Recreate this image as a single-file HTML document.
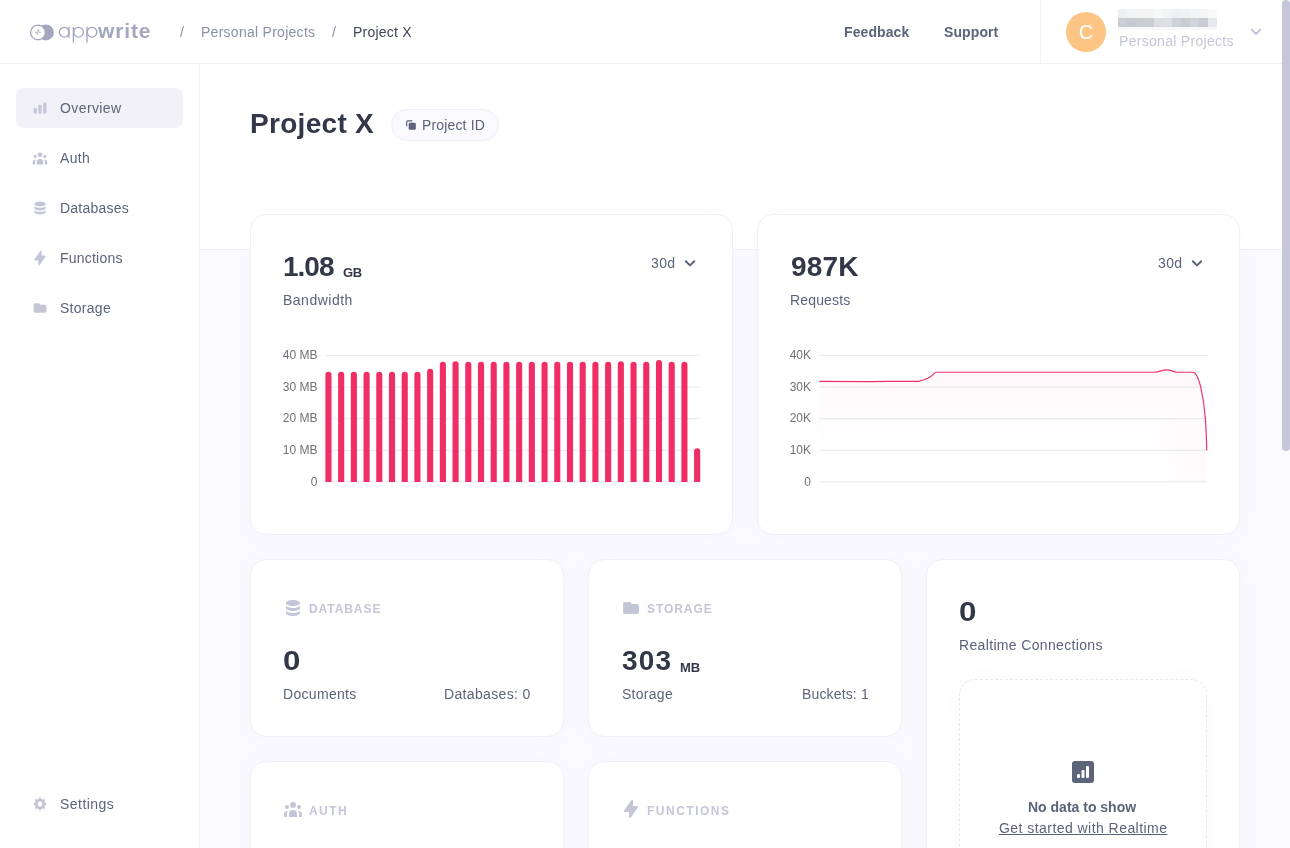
<!DOCTYPE html>
<html><head><meta charset="utf-8">
<style>
*{box-sizing:border-box;margin:0;padding:0}
html,body{width:1290px;height:848px;overflow:hidden}
body{font-family:"Liberation Sans",sans-serif;background:#F9F9FE;position:relative;color:#5B6479}
.a{position:absolute;white-space:nowrap;line-height:1}
.t14{font-size:14px}
#root{position:absolute;left:0;top:0;width:1290px;height:848px;will-change:transform}
#header{position:absolute;left:0;top:0;width:1290px;height:64px;background:#fff;border-bottom:1px solid #EFEFF5}
#sidebar{position:absolute;left:0;top:64px;width:200px;height:784px;background:#fff;border-right:1px solid #EFEFF5}
#toparea{position:absolute;left:200px;top:64px;width:1090px;height:186px;background:#fff;border-bottom:1px solid #F0F0F6}
.card{position:absolute;background:#fff;border:1px solid #EFEFF6;border-radius:16px;box-shadow:0 0 16px rgba(200,200,225,0.08)}
.nav{position:absolute;left:60px;font-size:14px;color:#5B6479;line-height:1}
.navbg{position:absolute;left:16px;top:88px;width:167px;height:40px;border-radius:8px;background:#F1F1F7}
.ico{position:absolute}
.dark{color:#373B4D}
.lbl{position:absolute;font-size:12px;font-weight:700;color:#C4C6D7;letter-spacing:0.93px;line-height:1}
#scroll{position:absolute;left:1282px;top:0;width:8px;height:451px;border-radius:4px;background:#C5C6D9}
</style></head>
<body><div id="root">
<div id="header">
  <!-- logo -->
  <svg class="ico" style="left:0;top:0" width="160" height="64" viewBox="0 0 160 64">
    <circle cx="45.9" cy="32.4" r="8" fill="#A2A7BF"/>
    <circle cx="38" cy="32.4" r="7.35" fill="#fff" stroke="#A2A7BF" stroke-width="1.3"/>
    <path d="M35.2 32.4H36.4L37.3 34.6L38.3 29.5L39.2 32.4H40.6" fill="none" stroke="#A2A7BF" stroke-width="0.75" stroke-linejoin="round"/>
    <g fill="none" stroke="#A2A7BF" stroke-width="1.35">
      <circle cx="64.2" cy="32.2" r="4.85"/>
      <path d="M68.85 26.8V37.7"/>
      <circle cx="78.5" cy="32.2" r="4.85"/>
      <path d="M73.4 26.8V42.7"/>
      <circle cx="92" cy="32.2" r="4.85"/>
      <path d="M87 26.8V42.7"/>
    </g>
  </svg>
  <div class="a" style="left:98px;top:19.8px;font-size:21px;font-weight:700;color:#A2A7BF;letter-spacing:0.85px">write</div>
  <div class="a t14" style="left:180px;top:25px;color:#8A92A8">/</div>
  <div class="a t14" style="left:201px;top:25px;color:#8A92A8;letter-spacing:0.27px">Personal Projects</div>
  <div class="a t14" style="left:332px;top:25px;color:#8A92A8">/</div>
  <div class="a t14" style="left:353px;top:25px;color:#3F4456;letter-spacing:0.21px">Project X</div>
  <div class="a t14" style="left:844px;top:25px;font-weight:700;color:#5B6479;letter-spacing:0.1px">Feedback</div>
  <div class="a t14" style="left:944px;top:25px;font-weight:700;color:#5B6479;letter-spacing:0.1px">Support</div>
  <div style="position:absolute;left:1040px;top:0;width:1px;height:63px;background:#F0F0F5"></div>
  <div style="position:absolute;left:1066px;top:12px;width:40px;height:40px;border-radius:50%;background:#FDC584"></div>
  <div class="a" style="left:1076px;top:22px;font-size:20px;color:#fff;width:20px;text-align:center">C</div>
  <div style="position:absolute;left:1118px;top:9px;width:99px;height:21px;display:grid;grid-template-columns:repeat(11,9px);grid-template-rows:9px 9px 3px"><i style="background:#EEEFF2"></i><i style="background:#F1F2F4"></i><i style="background:#F3F4F5"></i><i style="background:#F4F4F5"></i><i style="background:#F7F8F8"></i><i style="background:#F2F3F5"></i><i style="background:#EEEFF2"></i><i style="background:#F0F1F4"></i><i style="background:#F3F4F5"></i><i style="background:#F4F5F6"></i><i style="background:#FAFAFA"></i><i style="background:#CBCED4"></i><i style="background:#C6C9D1"></i><i style="background:#CACDD3"></i><i style="background:#CBCED3"></i><i style="background:#DCDEE2"></i><i style="background:#DDDFE3"></i><i style="background:#CED1D7"></i><i style="background:#C9CCD2"></i><i style="background:#D1D4D9"></i><i style="background:#C9CCD2"></i><i style="background:#E8E9EC"></i><i style="background:#F7F7F9"></i><i style="background:#F7F7F9"></i><i style="background:#F7F7F9"></i><i style="background:#F7F7F9"></i><i style="background:#F7F7F9"></i><i style="background:#F7F7F9"></i><i style="background:#F7F7F9"></i><i style="background:#F7F7F9"></i><i style="background:#F7F7F9"></i><i style="background:#F7F7F9"></i><i style="background:#F7F7F9"></i></div>
  
  <div class="a t14" style="left:1119px;top:34px;color:#C4C6D7;letter-spacing:0.3px">Personal Projects</div>
  <svg class="ico" style="left:1250px;top:28px" width="12" height="8" viewBox="0 0 12 8"><path d="M1.5 1.5 L6 6 L10.5 1.5" fill="none" stroke="#C4C6D7" stroke-width="1.8" stroke-linecap="round" stroke-linejoin="round"/></svg>
</div>

<div id="sidebar"></div>
<div class="navbg"></div>
<div class="nav" style="top:101px;letter-spacing:0.4px">Overview</div>
<div class="nav" style="top:151px;letter-spacing:0.33px">Auth</div>
<div class="nav" style="top:201px;letter-spacing:0.23px">Databases</div>
<div class="nav" style="top:251px;letter-spacing:0.21px">Functions</div>
<div class="nav" style="top:301px;letter-spacing:0.28px">Storage</div>
<div class="nav" style="top:797px;letter-spacing:0.46px">Settings</div>

<svg class="ico" style="left:32px;top:100px" width="16" height="16" viewBox="0 0 20 20" fill="#C4C6D7"><path d="M2 11a1 1 0 011-1h2a1 1 0 011 1v5a1 1 0 01-1 1H3a1 1 0 01-1-1v-5zM8 7a1 1 0 011-1h2a1 1 0 011 1v9a1 1 0 01-1 1H9a1 1 0 01-1-1V7zM14 4a1 1 0 011-1h2a1 1 0 011 1v12a1 1 0 01-1 1h-2a1 1 0 01-1-1V4z"/></svg>
<svg class="ico" style="left:32px;top:150px" width="16" height="16" viewBox="0 0 20 20" fill="#C4C6D7"><path d="M13 6a3 3 0 11-6 0 3 3 0 016 0zM18 8a2 2 0 11-4 0 2 2 0 014 0zM14 15a4 4 0 00-8 0v3h8v-3zM6 8a2 2 0 11-4 0 2 2 0 014 0zM16 18v-3a5.972 5.972 0 00-.75-2.906A3.005 3.005 0 0119 15v3h-3zM4.75 12.094A5.973 5.973 0 004 15v3H1v-3a3 3 0 013.75-2.906z"/></svg>
<svg class="ico" style="left:32px;top:200px" width="16" height="16" viewBox="0 0 20 20" fill="#C4C6D7"><path d="M3 12v3c0 1.657 3.134 3 7 3s7-1.343 7-3v-3c0 1.657-3.134 3-7 3s-7-1.343-7-3z"/><path d="M3 7v3c0 1.657 3.134 3 7 3s7-1.343 7-3V7c0 1.657-3.134 3-7 3S3 8.657 3 7z"/><path d="M17 5c0 1.657-3.134 3-7 3S3 6.657 3 5s3.134-3 7-3 7 1.343 7 3z"/></svg>
<svg class="ico" style="left:32px;top:250px" width="16" height="16" viewBox="0 0 20 20" fill="#C4C6D7"><path fill-rule="evenodd" d="M11.3 1.046A1 1 0 0112 2v5h4a1 1 0 01.82 1.573l-7 10A1 1 0 018 18v-5H4a1 1 0 01-.82-1.573l7-10a1 1 0 011.12-.38z" clip-rule="evenodd"/></svg>
<svg class="ico" style="left:32px;top:300px" width="16" height="16" viewBox="0 0 20 20" fill="#C4C6D7"><path d="M2 6a2 2 0 012-2h5l2 2h5a2 2 0 012 2v6a2 2 0 01-2 2H4a2 2 0 01-2-2V6z"/></svg>
<svg class="ico" style="left:32px;top:796px" width="16" height="16" viewBox="0 0 20 20" fill="#C4C6D7"><path fill-rule="evenodd" d="M11.49 3.17c-.38-1.56-2.6-1.56-2.98 0a1.532 1.532 0 01-2.286.948c-1.372-.836-2.942.734-2.106 2.106.54.886.061 2.042-.947 2.287-1.561.379-1.561 2.6 0 2.978a1.532 1.532 0 01.947 2.287c-.836 1.372.734 2.942 2.106 2.106a1.532 1.532 0 012.287.947c.379 1.561 2.6 1.561 2.978 0a1.533 1.533 0 012.287-.947c1.372.836 2.942-.734 2.106-2.106a1.533 1.533 0 01.947-2.287c1.561-.379 1.561-2.6 0-2.978a1.532 1.532 0 01-.947-2.287c.836-1.372-.734-2.942-2.106-2.106a1.532 1.532 0 01-2.287-.947zM10 13a3 3 0 100-6 3 3 0 000 6z" clip-rule="evenodd"/></svg>
<div id="toparea"></div>

<!-- title -->
<div class="a dark" style="left:250px;top:110px;font-size:28px;font-weight:700;color:#333849;letter-spacing:0.3px">Project X</div>
<div style="position:absolute;left:391px;top:109px;width:108px;height:32px;border-radius:16px;background:#F9F9FE;border:1px solid #EEEEF4"></div>
<svg class="ico" style="left:405px;top:119px" width="12" height="12" viewBox="0 0 12 12"><path d="M1.7 7.4V3A1.2 1.2 0 0 1 2.9 1.8H7.3" fill="none" stroke="#5B6479" stroke-width="1.15"/><rect x="3.7" y="3.7" width="7.1" height="7" rx="1.2" fill="#5B6479"/></svg>
<div class="a t14" style="left:422px;top:118px;color:#5B6479;letter-spacing:0.15px">Project ID</div>

<!-- bandwidth card -->
<div class="card" style="left:250px;top:214px;width:483px;height:321px"></div>
<div class="a dark" style="left:283px;top:253px;font-size:28px;font-weight:700;color:#333849;letter-spacing:-1px">1.08</div>
<div class="a dark" style="left:343px;top:266px;font-size:13px;font-weight:700;color:#333849;letter-spacing:-0.4px">GB</div>
<div class="a t14" style="left:283px;top:293px;letter-spacing:0.5px">Bandwidth</div>
<div class="a t14" style="left:651px;top:256px;letter-spacing:0.35px">30d</div>
<svg class="ico" style="left:684px;top:259px" width="12" height="9" viewBox="0 0 12 9"><path d="M1.8 2.2L6 6.4L10.2 2.2" fill="none" stroke="#5B6479" stroke-width="2" stroke-linecap="round" stroke-linejoin="round"/></svg>

<svg class="ico" style="left:0;top:0" width="1290" height="848" viewBox="0 0 1290 848">
  <g stroke="#E6E8F1" stroke-width="1"><line x1="325.5" y1="355.5" x2="700" y2="355.5"/><line x1="325.5" y1="387.1" x2="700" y2="387.1"/><line x1="325.5" y1="418.7" x2="700" y2="418.7"/><line x1="325.5" y1="450.3" x2="700" y2="450.3"/><line x1="325.5" y1="481.9" x2="700" y2="481.9"/></g>
  <g fill="#F02E65"><path d="M325.40 482V374.80A3.05 3.05 0 0 1 331.50 374.80V482Z"/><path d="M338.11 482V374.80A3.05 3.05 0 0 1 344.21 374.80V482Z"/><path d="M350.83 482V374.80A3.05 3.05 0 0 1 356.93 374.80V482Z"/><path d="M363.54 482V374.80A3.05 3.05 0 0 1 369.64 374.80V482Z"/><path d="M376.25 482V374.80A3.05 3.05 0 0 1 382.35 374.80V482Z"/><path d="M388.96 482V374.80A3.05 3.05 0 0 1 395.06 374.80V482Z"/><path d="M401.68 482V374.80A3.05 3.05 0 0 1 407.78 374.80V482Z"/><path d="M414.39 482V374.80A3.05 3.05 0 0 1 420.49 374.80V482Z"/><path d="M427.10 482V371.90A3.05 3.05 0 0 1 433.20 371.90V482Z"/><path d="M439.82 482V364.90A3.05 3.05 0 0 1 445.92 364.90V482Z"/><path d="M452.53 482V364.20A3.05 3.05 0 0 1 458.63 364.20V482Z"/><path d="M465.24 482V364.90A3.05 3.05 0 0 1 471.34 364.90V482Z"/><path d="M477.96 482V364.90A3.05 3.05 0 0 1 484.06 364.90V482Z"/><path d="M490.67 482V364.90A3.05 3.05 0 0 1 496.77 364.90V482Z"/><path d="M503.38 482V364.90A3.05 3.05 0 0 1 509.48 364.90V482Z"/><path d="M516.10 482V364.90A3.05 3.05 0 0 1 522.20 364.90V482Z"/><path d="M528.81 482V364.90A3.05 3.05 0 0 1 534.91 364.90V482Z"/><path d="M541.52 482V364.90A3.05 3.05 0 0 1 547.62 364.90V482Z"/><path d="M554.23 482V364.90A3.05 3.05 0 0 1 560.33 364.90V482Z"/><path d="M566.95 482V364.90A3.05 3.05 0 0 1 573.05 364.90V482Z"/><path d="M579.66 482V364.90A3.05 3.05 0 0 1 585.76 364.90V482Z"/><path d="M592.37 482V364.90A3.05 3.05 0 0 1 598.47 364.90V482Z"/><path d="M605.09 482V364.90A3.05 3.05 0 0 1 611.19 364.90V482Z"/><path d="M617.80 482V364.20A3.05 3.05 0 0 1 623.90 364.20V482Z"/><path d="M630.51 482V364.90A3.05 3.05 0 0 1 636.61 364.90V482Z"/><path d="M643.22 482V364.90A3.05 3.05 0 0 1 649.32 364.90V482Z"/><path d="M655.94 482V363.00A3.05 3.05 0 0 1 662.04 363.00V482Z"/><path d="M668.65 482V364.90A3.05 3.05 0 0 1 674.75 364.90V482Z"/><path d="M681.36 482V364.90A3.05 3.05 0 0 1 687.46 364.90V482Z"/><path d="M694.08 482V451.20A3.05 3.05 0 0 1 700.18 451.20V482Z"/></g>
  <g font-family="Liberation Sans" font-size="12" fill="#6E7079" text-anchor="end">
   <text x="317.5" y="359">40 MB</text><text x="317.5" y="390.6">30 MB</text><text x="317.5" y="422.2">20 MB</text><text x="317.5" y="453.8">10 MB</text><text x="317.5" y="486.2">0</text>
  </g>
</svg>

<!-- requests card -->
<div class="card" style="left:757px;top:214px;width:483px;height:321px"></div>
<div class="a dark" style="left:791px;top:253px;font-size:28px;font-weight:700;color:#333849;letter-spacing:0.2px">987K</div>
<div class="a t14" style="left:790px;top:293px;letter-spacing:0.15px">Requests</div>
<div class="a t14" style="left:1158px;top:256px;letter-spacing:0.35px">30d</div>
<svg class="ico" style="left:1191px;top:259px" width="12" height="9" viewBox="0 0 12 9"><path d="M1.8 2.2L6 6.4L10.2 2.2" fill="none" stroke="#5B6479" stroke-width="2" stroke-linecap="round" stroke-linejoin="round"/></svg>
<svg class="ico" style="left:0;top:0" width="1290" height="848" viewBox="0 0 1290 848">
  <defs><linearGradient id="ag" x1="0" y1="0" x2="0" y2="1"><stop offset="0" stop-color="#F02E65" stop-opacity="0.035"/><stop offset="0.75" stop-color="#F02E65" stop-opacity="0"/></linearGradient></defs>
  <g stroke="#E6E8F1" stroke-width="1"><line x1="819.3" y1="355.5" x2="1207" y2="355.5"/><line x1="819.3" y1="387.1" x2="1207" y2="387.1"/><line x1="819.3" y1="418.7" x2="1207" y2="418.7"/><line x1="819.3" y1="450.3" x2="1207" y2="450.3"/><line x1="819.3" y1="481.9" x2="1207" y2="481.9"/></g>
  <path d="M819.3 381.4 L870 381.6 L890 381.4 L918.5 381.4 C925 379.5 929 378 931 376.5 C933 374.5 934.5 372.2 936.4 372.2 L1154 372.2 C1160 372 1162 369.8 1167 369.8 C1172 369.8 1173 372.2 1177 372.2 L1193 372.2 C1196.5 372.3 1198.8 379 1200.8 387.4 C1203 397 1204.6 408 1205.4 418.6 C1206.2 431 1206.6 441 1206.8 450.4 L1206.8 482 L819.3 482Z" fill="url(#ag)"/>
  <path d="M819.3 381.4 L870 381.6 L890 381.4 L918.5 381.4 C925 379.5 929 378 931 376.5 C933 374.5 934.5 372.2 936.4 372.2 L1154 372.2 C1160 372 1162 369.8 1167 369.8 C1172 369.8 1173 372.2 1177 372.2 L1193 372.2 C1196.5 372.3 1198.8 379 1200.8 387.4 C1203 397 1204.6 408 1205.4 418.6 C1206.2 431 1206.6 441 1206.8 450.4" fill="none" stroke="#F02E65" stroke-width="1.15"/>
  <defs><radialGradient id="rg"><stop offset="0" stop-color="#F02E65" stop-opacity="0.03"/><stop offset="1" stop-color="#F02E65" stop-opacity="0"/></radialGradient><clipPath id="cp"><rect x="819" y="355" width="388" height="127"/></clipPath></defs><circle cx="1200" cy="455" r="50" fill="url(#rg)" clip-path="url(#cp)"/>
  <g font-family="Liberation Sans" font-size="12" fill="#6E7079" text-anchor="end">
   <text x="811" y="359">40K</text><text x="811" y="390.6">30K</text><text x="811" y="422.2">20K</text><text x="811" y="453.8">10K</text><text x="811" y="486.2">0</text>
  </g>
</svg>

<!-- database card -->
<div class="card" style="left:250px;top:559px;width:314px;height:178px"></div>
<svg class="ico" style="left:283px;top:598px" width="20" height="20" viewBox="0 0 20 20" fill="#C4C6D7"><path d="M3 12v3c0 1.657 3.134 3 7 3s7-1.343 7-3v-3c0 1.657-3.134 3-7 3s-7-1.343-7-3z"/><path d="M3 7v3c0 1.657 3.134 3 7 3s7-1.343 7-3V7c0 1.657-3.134 3-7 3S3 8.657 3 7z"/><path d="M17 5c0 1.657-3.134 3-7 3S3 6.657 3 5s3.134-3 7-3 7 1.343 7 3z"/></svg>
<div class="lbl" style="left:309px;top:603px">DATABASE</div>
<div class="a dark" style="left:283px;top:647px;font-size:28px;font-weight:700;color:#333849;transform:scaleX(1.12);transform-origin:0 0">0</div>
<div class="a t14" style="left:283px;top:687px;letter-spacing:0.31px">Documents</div>
<div class="a t14" style="left:444px;top:687px;letter-spacing:0.35px">Databases: 0</div>

<!-- storage card -->
<div class="card" style="left:588px;top:559px;width:314px;height:178px"></div>
<svg class="ico" style="left:621px;top:598px" width="20" height="20" viewBox="0 0 20 20" fill="#C4C6D7"><path d="M2 6a2 2 0 012-2h5l2 2h5a2 2 0 012 2v6a2 2 0 01-2 2H4a2 2 0 01-2-2V6z"/></svg>
<div class="lbl" style="left:647px;top:603px">STORAGE</div>
<div class="a dark" style="left:622px;top:647px;font-size:28px;font-weight:700;color:#333849;letter-spacing:1.2px">303</div>
<div class="a dark" style="left:680px;top:661px;font-size:13px;font-weight:700;color:#333849;letter-spacing:-0.1px">MB</div>
<div class="a t14" style="left:622px;top:687px;letter-spacing:0.28px">Storage</div>
<div class="a t14" style="left:802px;top:687px;letter-spacing:0.15px">Buckets: 1</div>

<!-- realtime card -->
<div class="card" style="left:926px;top:559px;width:314px;height:320px"></div>
<div class="a dark" style="left:959px;top:598px;font-size:28px;font-weight:700;color:#333849;transform:scaleX(1.12);transform-origin:0 0">0</div>
<div class="a t14" style="left:959px;top:638px;letter-spacing:0.34px">Realtime Connections</div>
<div style="position:absolute;left:959px;top:679px;width:248px;height:220px;border:1px dashed #E8E8EF;border-radius:16px;box-shadow:0 0 24px rgba(40,40,80,0.025)"></div>
<svg class="ico" style="left:1072px;top:761px" width="22" height="22" viewBox="0 0 22 22"><rect x="0" y="0" width="22" height="22" rx="3" fill="#5B6479"/><rect x="5" y="13" width="3" height="4" rx="1.2" fill="#fff"/><rect x="9.5" y="9" width="3" height="8" rx="1.2" fill="#fff"/><rect x="14" y="5" width="3" height="12" rx="1.2" fill="#fff"/></svg>
<div class="a t14" style="left:1028px;top:800px;font-weight:700;color:#5B6479">No data to show</div>
<div class="a t14" style="left:999px;top:821px;letter-spacing:0.45px;text-decoration:underline">Get started with Realtime</div>

<!-- auth card -->
<div class="card" style="left:250px;top:761px;width:314px;height:178px"></div>
<svg class="ico" style="left:283px;top:799px" width="20" height="20" viewBox="0 0 20 20" fill="#C4C6D7"><path d="M13 6a3 3 0 11-6 0 3 3 0 016 0zM18 8a2 2 0 11-4 0 2 2 0 014 0zM14 15a4 4 0 00-8 0v3h8v-3zM6 8a2 2 0 11-4 0 2 2 0 014 0zM16 18v-3a5.972 5.972 0 00-.75-2.906A3.005 3.005 0 0119 15v3h-3zM4.75 12.094A5.973 5.973 0 004 15v3H1v-3a3 3 0 013.75-2.906z"/></svg>
<div class="lbl" style="left:309px;top:805px;letter-spacing:1.45px">AUTH</div>
<!-- functions card -->
<div class="card" style="left:588px;top:761px;width:314px;height:178px"></div>
<svg class="ico" style="left:621px;top:799px" width="20" height="20" viewBox="0 0 20 20" fill="#C4C6D7"><path fill-rule="evenodd" d="M11.3 1.046A1 1 0 0112 2v5h4a1 1 0 01.82 1.573l-7 10A1 1 0 018 18v-5H4a1 1 0 01-.82-1.573l7-10a1 1 0 011.12-.38z" clip-rule="evenodd"/></svg>
<div class="lbl" style="left:647px;top:805px;letter-spacing:1.5px">FUNCTIONS</div>

<div id="scroll"></div>
</div></body></html>
